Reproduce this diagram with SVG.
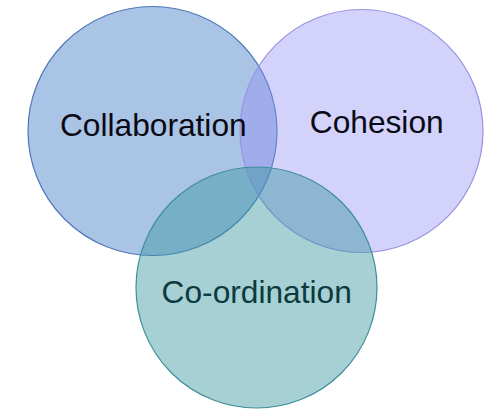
<svg xmlns="http://www.w3.org/2000/svg" width="490" height="412" viewBox="0 0 490 412">
<style>
.lbl{font-family:"Liberation Sans",Arial,sans-serif;font-size:31.7px;text-anchor:middle}
.c1{fill:#2a6bc0;fill-opacity:0.4;stroke:#4f77b8;stroke-width:1.2}
.c2{fill:#8e8ef2;fill-opacity:0.4;stroke:#9a92e4;stroke-width:1.2}
.c3{fill:#3a97a0;fill-opacity:0.45;stroke:#3d8e98;stroke-width:1.2}
</style>
<rect width="490" height="412" fill="#ffffff"/>
<g id="collaboration">
<circle class="c1" cx="152.5" cy="131" r="124.5"/>
</g>
<g id="cohesion">
<circle class="c2" cx="361.5" cy="131" r="121.5"/>
</g>
<g id="coordination">
<circle class="c3" cx="256.5" cy="287.5" r="120.5"/>
</g>
<g id="connectors"></g>
<g id="labels">
<text class="lbl" x="153.3" y="136" fill="#0a0a14">Collaboration</text>
<text class="lbl" x="376.7" y="133.3" fill="#0a0a14">Cohesion</text>
<text class="lbl" x="256.7" y="303.3" fill="#0c3a3e">Co-ordination</text>
</g>
</svg>
